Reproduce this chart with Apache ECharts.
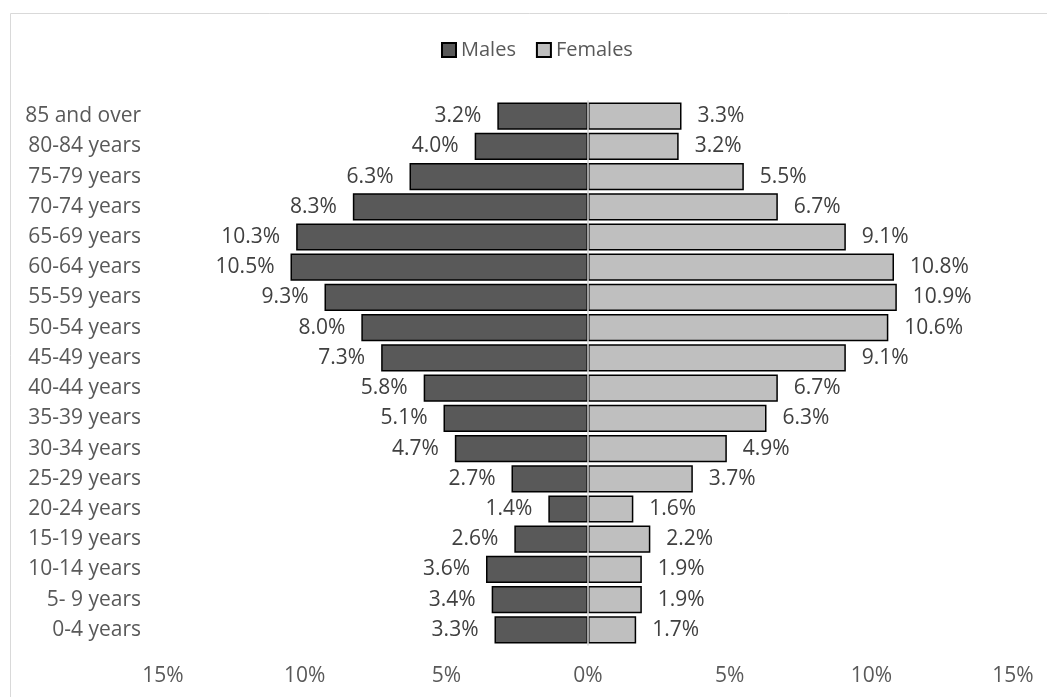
<!DOCTYPE html>
<html><head><meta charset="utf-8">
<script src="https://cdn.jsdelivr.net/npm/echarts@6/dist/echarts.min.js"></script>
<style>html,body{margin:0;padding:0;background:#fff}#c{width:1047px;height:697px}</style>
</head><body><div id="c"></div>
<script>
const categories = ['85 and over','80-84 years','75-79 years','70-74 years','65-69 years','60-64 years','55-59 years','50-54 years','45-49 years','40-44 years','35-39 years','30-34 years','25-29 years','20-24 years','15-19 years','10-14 years','5- 9 years','0-4 years'];
const males = [3.2,4.0,6.3,8.3,10.3,10.5,9.3,8.0,7.3,5.8,5.1,4.7,2.7,1.4,2.6,3.6,3.4,3.3];
const females = [3.3,3.2,5.5,6.7,9.1,10.8,10.9,10.6,9.1,6.7,6.3,4.9,3.7,1.6,2.2,1.9,1.9,1.7];
const xTicks = [-15,-10,-5,0,5,10,15];

const FONT = '"Open Sans", "Noto Sans", sans-serif';
const chart = echarts.init(document.getElementById('c'));
chart.setOption({
  animation:false,
  textStyle:{fontFamily:FONT},
  graphic:[{type:'rect',left:8,top:11,shape:{width:1100,height:800},style:{fill:'none',stroke:'#d9d9d9',lineWidth:1},silent:true}],
  legend:{top:40,left:441,padding:0,itemWidth:14,itemHeight:14,itemGap:20,
    textStyle:{fontSize:20,color:'#595959',fontFamily:FONT},
    data:[{name:'Males',icon:'rect'},{name:'Females',icon:'rect'}]},
  grid:{left:163,right:34,top:101,bottom:52,containLabel:false},
  xAxis:{type:'value',min:xTicks[0],max:xTicks[xTicks.length-1],interval:5,
    axisLine:{show:false},axisTick:{show:false},splitLine:{show:false},
    axisLabel:{color:'#595959',fontSize:21,margin:21,formatter:v=>Math.abs(v)+'%'}},
  yAxis:{type:'category',data:categories,inverse:true,z:5,
    axisLine:{show:true,onZero:true,lineStyle:{color:'#d9d9d9',width:1.5}},
    axisTick:{show:false},
    axisLabel:{color:'#595959',fontSize:21,margin:22}},
  series:[
    {name:'Males',type:'bar',barGap:'-100%',barCategoryGap:'10%',
     data:males.map(v=>-v),
     itemStyle:{color:'#595959',borderColor:'#000',borderWidth:1.5},
     label:{show:true,position:'left',distance:16,color:'#404040',fontSize:21,formatter:p=>Math.abs(p.value).toFixed(1)+'%'}},
    {name:'Females',type:'bar',barCategoryGap:'10%',
     data:females,
     itemStyle:{color:'#bfbfbf',borderColor:'#000',borderWidth:1.5},
     label:{show:true,position:'right',distance:16,color:'#404040',fontSize:21,formatter:p=>p.value.toFixed(1)+'%'}}
  ]
});
</script></body></html>
